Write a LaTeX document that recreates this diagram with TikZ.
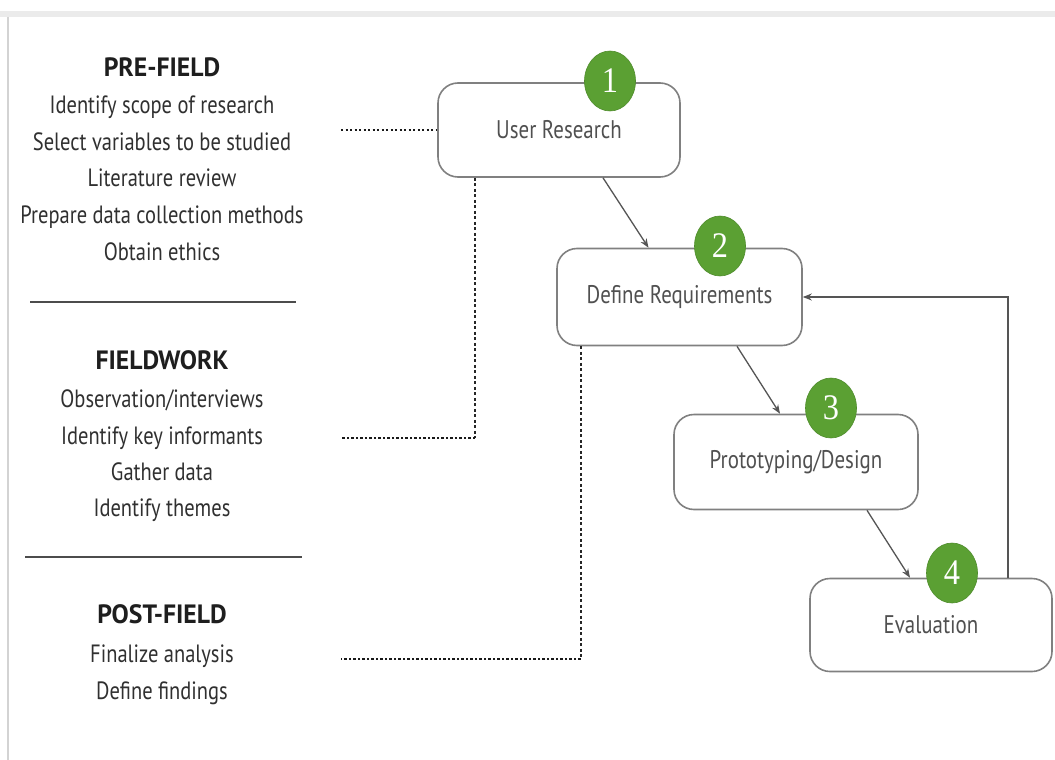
\documentclass[tikz,border=0pt]{standalone}
\usepackage{fontspec}
\setmainfont[FakeStretch=0.82]{PT Sans}
\newfontfamily\hdrfont[FakeStretch=0.97]{PT Sans}
\newfontfamily\numfont[FakeStretch=0.9]{Liberation Serif}
\usetikzlibrary{arrows.meta,shapes.geometric}
\definecolor{txt}{HTML}{303030}
\definecolor{hdr}{HTML}{1E1E1E}
\definecolor{boxtxt}{HTML}{505050}
\definecolor{boxline}{HTML}{808080}
\definecolor{grn}{HTML}{5BA033}
\definecolor{grnline}{HTML}{4F8C2C}
\definecolor{arr}{HTML}{555555}
\definecolor{band}{HTML}{EBEBEB}
\begin{document}
\begin{tikzpicture}[x=1pt,y=-1pt,
  listline/.style={font=\fontsize{25}{28}\selectfont, text=txt, anchor=base, inner sep=0pt},
  header/.style={font=\hdrfont\fontsize{26.5}{28}\selectfont\bfseries, text=hdr, anchor=base, inner sep=0pt},
  stage/.style={draw=boxline, line width=1.6pt, rounded corners=20pt, fill=white,
    text=boxtxt, font=\fontsize{25.5}{28}\selectfont, inner sep=0pt},
  badge/.style={ellipse, fill=grn, draw=grnline, line width=0.6pt, minimum width=51pt,
    minimum height=60pt, inner sep=0pt, text=white, font=\numfont\fontsize{36}{36}\selectfont},
  flow/.style={draw=arr, line width=1.3pt, -{Stealth[length=9pt,width=7pt]}},
  link/.style={draw=black!90, line width=2.2pt, dash pattern=on 2.2pt off 2.3pt},
  vlink/.style={draw=black!85, line width=2pt, dash pattern=on 3pt off 2.5pt},
  sep/.style={draw=black!70, line width=1.8pt}
]
\useasboundingbox (0,0) rectangle (1055,760);
\fill[white] (0,0) rectangle (1055,760);
\fill[band] (0,11) rectangle (1055,17);
\draw[band!90!black, line width=1.2pt] (8,17) -- (8,760);

% left column
\node[header]   (h1)  at (162,77)  {PRE-FIELD};
\node[listline] (p1)  at (162,113) {Identify scope of research};
\node[listline] (p2)  at (162,150) {Select variables to be studied};
\node[listline] (p3)  at (162,186) {Literature review};
\node[listline] (p4)  at (162,223) {Prepare data collection methods};
\node[listline] (p5)  at (162,260) {Obtain ethics};
\coordinate (s1a) at (30,302);
\coordinate (s1b) at (296,302);
\draw[sep] (s1a) -- (s1b);

\node[header]   (h2)  at (162,369) {FIELDWORK};
\node[listline] (f1)  at (162,407) {Observation/interviews};
\node[listline] (f2)  at (162,444) {Identify key informants};
\node[listline] (f3)  at (162,480) {Gather data};
\node[listline] (f4)  at (162,516) {Identify themes};
\coordinate (s2a) at (25,557);
\coordinate (s2b) at (302,557);
\draw[sep] (s2a) -- (s2b);

\node[header]   (h3)  at (162,623) {POST-FIELD};
\node[listline] (q1)  at (162,662) {Finalize analysis};
\node[listline] (q2)  at (162,699) {Define findings};

% stages
\node[stage, minimum width=242pt, minimum height=94pt] (b1) at (559,130)   {User Research};
\node[stage, minimum width=245pt, minimum height=97pt] (b2) at (679.5,297) {Define Requirements};
\node[stage, minimum width=244pt, minimum height=95pt] (b3) at (796,462) {Prototyping/Design};
\node[stage, minimum width=242pt, minimum height=93pt] (b4) at (931,625) {Evaluation};

% arrows
\draw[flow] ([xshift=44pt]b1.south) -- ([xshift=-31pt]b2.north);
\draw[flow] ([xshift=57.5pt]b2.south) -- ([xshift=-16pt]b3.north);
\draw[flow] ([xshift=71pt]b3.south) -- ([xshift=-21pt]b4.north);
\draw[flow] ([xshift=77pt]b4.north) |- (b2.east);

% badges
\node[badge] (c1) at (610,81)  {1};
\node[badge] (c2) at (720,246) {2};
\node[badge] (c3) at (831,408) {3};
\node[badge] (c4) at (952,573) {4};

% dotted links
\coordinate (d1) at (341,130);
\coordinate (d2) at (341,438);
\coordinate (d3) at (341,659);
\coordinate (k2) at ([xshift=-84pt]b1.south |- d2);
\coordinate (k3) at ([xshift=-99pt]b2.south |- d3);
\draw[link] (d1) -- (b1.west);
\draw[vlink] ([xshift=-84pt]b1.south) -- (k2);
\draw[link] (k2) -- (d2);
\draw[vlink] ([xshift=-99pt]b2.south) -- (k3);
\draw[link] (k3) -- (d3);
\end{tikzpicture}
\end{document}
